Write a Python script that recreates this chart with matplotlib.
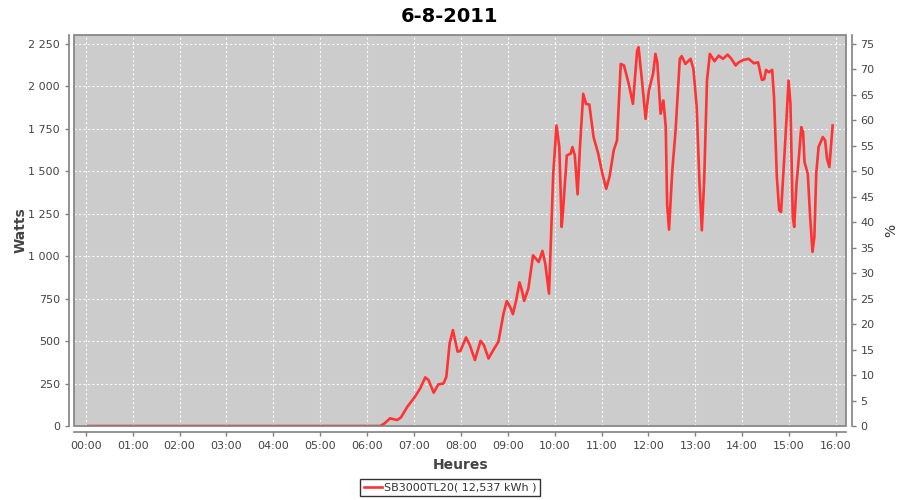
import matplotlib
matplotlib.use("Agg")
import matplotlib.pyplot as plt
from matplotlib.ticker import FuncFormatter
from matplotlib.patches import Rectangle

title = "6-8-2011"
series_name = "SB3000TL20( 12,537 kWh )"

hours = [0.05, 6.22, 6.28, 6.37, 6.49, 6.64, 6.72, 6.86, 7.02, 7.13, 7.24, 7.31, 7.42, 7.52,
         7.63, 7.69, 7.76, 7.83, 7.93, 7.99, 8.11, 8.19, 8.30, 8.42, 8.49, 8.59, 8.69, 8.80,
         8.91, 8.98, 9.05, 9.11, 9.18, 9.25, 9.30, 9.35, 9.44, 9.54, 9.66, 9.74, 9.80, 9.88,
         9.97, 10.04, 10.10, 10.15, 10.18, 10.26, 10.34, 10.38, 10.43, 10.49, 10.54, 10.61,
         10.67, 10.74, 10.83, 10.93, 11.01, 11.10, 11.17, 11.26, 11.33, 11.41, 11.48, 11.58,
         11.67, 11.76, 11.79, 11.87, 11.94, 12.01, 12.10, 12.15, 12.19, 12.26, 12.32, 12.37,
         12.40, 12.44, 12.51, 12.58, 12.67, 12.71, 12.79, 12.90, 12.96, 13.03, 13.09, 13.14,
         13.19, 13.25, 13.31, 13.41, 13.50, 13.59, 13.69, 13.77, 13.86, 13.93, 14.03, 14.14,
         14.25, 14.34, 14.42, 14.47, 14.51, 14.57, 14.64, 14.68, 14.74, 14.79, 14.83, 14.92,
         14.99, 15.03, 15.08, 15.11, 15.16, 15.21, 15.26, 15.30, 15.33, 15.40, 15.45, 15.50,
         15.54, 15.58, 15.63, 15.72, 15.77, 15.81, 15.86, 15.93]
watts = [0, 0, 0, 15, 45, 35, 50, 114, 172, 220, 286, 270, 196, 245,
         250, 290, 486, 564, 437, 442, 521, 476, 388, 501, 476, 397, 446, 495,
         662, 736, 700, 658, 740, 845, 800, 736, 809, 1004, 965, 1030, 955, 779,
         1484, 1768, 1641, 1171, 1269, 1592, 1602, 1641, 1592, 1363, 1641, 1954,
         1895, 1891, 1700, 1602, 1494, 1396, 1465, 1621, 1680, 2130, 2121, 2013,
         1895, 2209, 2228, 2013, 1807, 1974, 2072, 2189, 2140, 1837, 1915, 1760,
         1300, 1155, 1504, 1739, 2160, 2176, 2130, 2160, 2100, 1880, 1425, 1151,
         1445, 2032, 2189, 2146, 2179, 2160, 2185, 2160, 2121, 2140, 2154, 2160,
         2134, 2140, 2036, 2040, 2095, 2081, 2095, 1934, 1465, 1269, 1259, 1680,
         2032, 1895, 1230, 1171, 1425, 1582, 1758, 1729, 1553, 1484, 1230, 1024,
         1112, 1484, 1641, 1700, 1680, 1572, 1523, 1768]

x_ticks = list(range(0, 17))
x_tick_labels = ["%02d:00" % h for h in x_ticks]
watt_ticks = list(range(0, 2251, 250))
pct_ticks = list(range(0, 76, 5))
max_watts = 2250
max_pct = 75

plt.rcParams['font.family'] = ['DejaVu Sans']
fig = plt.figure(figsize=(9, 5), dpi=100)
ax = fig.add_axes([0.0826, 0.148, 0.9400 - 0.0826, 0.9306 - 0.148])
ax.set_facecolor('#cccccc')

ax.plot(hours, watts, color='#ff3333', lw=1.9, solid_joinstyle='round', zorder=3,
        label=series_name)

ymax = 2302
ax.set_ylim(0, ymax)
ax.set_xlim(-0.245, 16.215)
ax.set_xticks(x_ticks)
ax.set_xticklabels(x_tick_labels)
ax.set_yticks(watt_ticks)
ax.yaxis.set_major_formatter(FuncFormatter(lambda v, p: "{:,}".format(int(v)).replace(",", " ")))
ax.grid(True, color='white', linestyle=(0, (2, 2)), lw=0.8, alpha=0.9)
ax.set_axisbelow(True)

gray = '#808080'
for s in ['top', 'right']:
    ax.spines[s].set_visible(False)
for s in ['left', 'bottom']:
    ax.spines[s].set_position(('outward', 4))
    ax.spines[s].set_color(gray)
    ax.spines[s].set_linewidth(1.2)
ax.add_patch(Rectangle((0, 0), 1, 1, transform=ax.transAxes, fill=False,
                       edgecolor=gray, lw=1.2, clip_on=False, zorder=5))
ax.tick_params(axis='both', colors=gray, labelcolor='#444444', labelsize=8, length=3, width=1)

ax2 = ax.twinx()
ax2.set_ylim(0, ymax * max_pct / max_watts)
ax2.set_yticks(pct_ticks)
for s in ['top', 'left', 'bottom']:
    ax2.spines[s].set_visible(False)
ax2.spines['right'].set_position(('outward', 4))
ax2.spines['right'].set_color(gray)
ax2.spines['right'].set_linewidth(1.2)
ax2.tick_params(axis='y', colors=gray, labelcolor='#444444', labelsize=8, length=3, width=1)
ax2.set_ylabel('%', fontsize=10, color='#333333', labelpad=7)

ax.set_ylabel('Watts', fontsize=10, fontweight='bold', color='#444444')
ax.yaxis.set_label_coords(-0.061, 0.5)
ax.set_xlabel('Heures', fontsize=10, fontweight='bold', color='#444444', labelpad=5)
fig.suptitle(title, fontsize=14, fontweight='bold', y=0.985)

leg = fig.legend(loc='center', bbox_to_anchor=(0.5, 0.025), fontsize=8, frameon=True,
                 fancybox=False, edgecolor='black', handlelength=1.6, handletextpad=0.2,
                 borderpad=0.3, borderaxespad=0)
leg.get_frame().set_linewidth(1.0)
for t in leg.get_texts():
    t.set_color('#333333')

fig.savefig('out.png', dpi=100)
